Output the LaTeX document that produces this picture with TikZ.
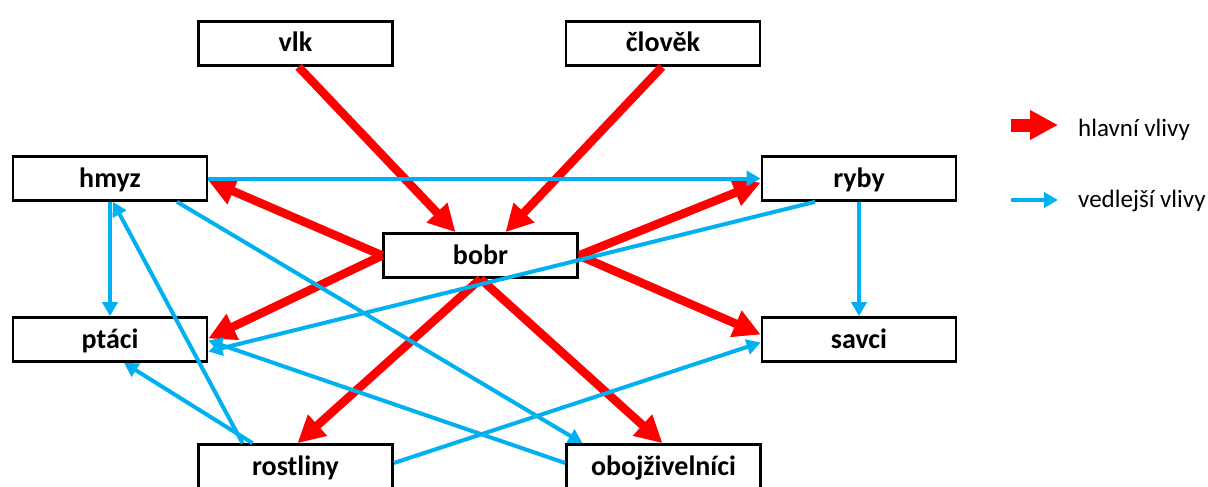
\documentclass[tikz,border=0pt]{standalone}
\usepackage{fontspec}
\setmainfont{Carlito}
\usetikzlibrary{arrows.meta,calc}
\definecolor{cred}{RGB}{255,0,0}
\definecolor{cblue}{RGB}{0,176,240}
\begin{document}
\begin{tikzpicture}[x=1pt,y=-1pt,
 box/.style={draw=black,line width=2.7pt,fill=white,minimum width=194pt,minimum height=44pt,inner sep=0pt,text height=22pt,text depth=5pt,font=\fontsize{28}{30}\selectfont\bfseries},
 major/.style={draw=cred,line width=8.5pt,-{Triangle[length=27pt,width=27pt]}},
 minor/.style={draw=cblue,line width=4pt,-{Triangle[length=14pt,width=15pt]}},
 legtext/.style={anchor=base west,inner sep=0pt,font=\fontsize{25}{30}\selectfont}]
\useasboundingbox (0,0) rectangle (1208,487);
\node[box] (vlk) at (295.5,43.5) {vlk};
\node[box] (clovek) at (663,43.5) {člověk};
\node[box] (hmyz) at (110,178.5) {hmyz};
\node[box] (ryby) at (859,178.5) {ryby};
\node[box] (bobr) at (480.5,255.5) {bobr};
\node[box] (ptaci) at (110,339.5) {ptáci};
\node[box] (savci) at (859,339.5) {savci};
\node[box] (rostliny) at (295.5,466.5) {rostliny};
\node[box] (oboj) at (663.5,466.5) {obojživelníci};
% main influences
\draw[major] ($(vlk.south)+(3,0)$) -- ($(bobr.north)+(-25,0)$);
\draw[major] ($(clovek.south)+(-1,0)$) -- ($(bobr.north)+(25,0)$);
\draw[major] (bobr.west) -- ($(hmyz.east)+(0,2)$);
\draw[major] (bobr.west) -- ($(ptaci.east)+(0,-1)$);
\draw[major] (bobr.east) -- ($(ryby.west)+(0,4)$);
\draw[major] (bobr.east) -- ($(savci.west)+(0,-5)$);
\draw[major] (bobr.south) -- ($(rostliny.north)+(2,0)$);
\draw[major] (bobr.south) -- ($(oboj.north)+(-1,0)$);
% side influences
\draw[minor] (hmyz.east) -- (ryby.west);
\draw[minor] (hmyz.south) -- (ptaci.north);
\draw[minor] ($(hmyz.south)+(67,0)$) -- ($(oboj.north)+(-81,0)$);
\draw[minor] (ryby.south) -- (savci.north);
\draw[minor] ($(ryby.south)+(-44,0)$) -- ($(ptaci.east)+(0,12)$);
\draw[minor] ($(rostliny.north)+(-53,0)$) -- ($(hmyz.south)+(3,0)$);
\draw[minor] ($(rostliny.north)+(-43,0)$) -- ($(ptaci.south)+(14,0)$);
\draw[minor] ($(rostliny.east)+(0,-3.5)$) -- ($(savci.west)+(0,3)$);
\draw[minor] ($(oboj.west)+(0,-3.5)$) -- ($(ptaci.east)+(0,1)$);
% legend
\coordinate (lr1) at (1011,125);
\coordinate (lr2) at (1058,125);
\coordinate (lb1) at (1011,200);
\coordinate (lb2) at (1058,200);
\draw[major,line width=13pt,-{Triangle[length=28pt,width=28pt]}] (lr1) -- (lr2);
\draw[minor] (lb1) -- (lb2);
\node[legtext] (lt1) at (1078,136) {hlavní vlivy};
\node[legtext] (lt2) at (1078,207) {vedlejší vlivy};
\end{tikzpicture}
\end{document}
